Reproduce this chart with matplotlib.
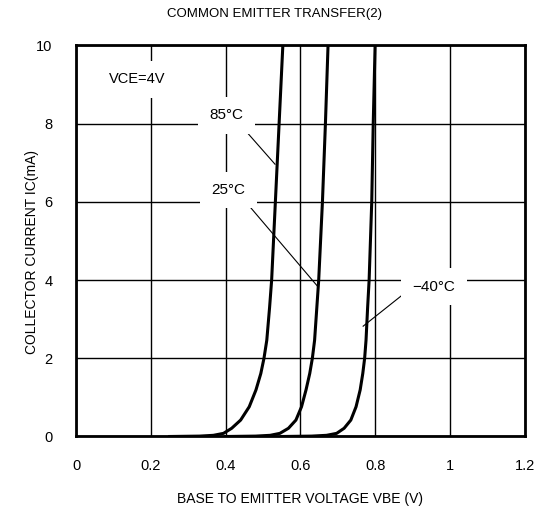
import matplotlib.pyplot as plt
import numpy as np

plt.rcParams['font.family'] = ['Liberation Sans', 'Noto Sans CJK JP', 'DejaVu Sans']

# curves: (VBE [V], IC [mA])
vbe_85 = [0.25, 0.33, 0.367, 0.394, 0.416, 0.440, 0.463, 0.481, 0.494, 0.5025, 0.510, 0.5175, 0.523, 0.533, 0.543, 0.553]
ic_85 = [0.0, 0.01, 0.03, 0.08, 0.21, 0.42, 0.76, 1.19, 1.61, 2.0, 2.46, 3.3, 4.0, 6.0, 8.0, 10.0]

vbe_25 = [0.40, 0.48, 0.519, 0.545, 0.568, 0.588, 0.603, 0.615, 0.625, 0.632, 0.638, 0.644, 0.649, 0.659, 0.667, 0.674]
ic_25 = [0.0, 0.01, 0.03, 0.08, 0.21, 0.42, 0.76, 1.19, 1.61, 2.0, 2.46, 3.3, 4.0, 6.0, 8.0, 10.0]

vbe_m40 = [0.55, 0.63, 0.670, 0.697, 0.717, 0.735, 0.749, 0.760, 0.767, 0.772, 0.7757, 0.780, 0.784, 0.791, 0.795, 0.800]
ic_m40 = [0.0, 0.01, 0.03, 0.08, 0.21, 0.42, 0.76, 1.19, 1.61, 2.0, 2.46, 3.3, 4.0, 6.0, 8.0, 10.0]

labels = ["85\u00b0C", "25\u00b0C", "\u221240\u00b0C"]
label_xy = [(0.401, 8.21), (0.408, 6.30), (0.958, 3.83)]
leaders = [((0.438, 7.98), (0.532, 6.96)),
           ((0.457, 5.96), (0.645, 3.85)),
           ((0.880, 3.67), (0.768, 2.82))]

xticks = [0, 0.2, 0.4, 0.6, 0.8, 1.0, 1.2]
xticklabels = ["0", "0.2", "0.4", "0.6", "0.8", "1", "1.2"]
yticks = [0, 2, 4, 6, 8, 10]

fig = plt.figure(figsize=(5.4, 5.11), dpi=100)
ax = fig.add_axes([0.1413, 0.1458, 0.830, 0.7656])

ax.set_xlim(0, 1.2)
ax.set_ylim(0, 10)
ax.set_xticks(xticks)
ax.set_xticklabels(xticklabels)
ax.set_yticks(yticks)
ax.tick_params(length=0, labelsize=10.5)
ax.tick_params(axis='x', pad=16)
ax.tick_params(axis='y', pad=17)
ax.grid(True, color='black', lw=1.0, zorder=1)
ax.set_axisbelow(True)
for s in ax.spines.values():
    s.set_linewidth(2.0)

for v, i in [(vbe_85, ic_85), (vbe_25, ic_25), (vbe_m40, ic_m40)]:
    ax.plot(v, i, color='black', lw=2.2, zorder=3, solid_joinstyle='round')

for (p0, p1) in leaders:
    ax.plot([p0[0], p1[0]], [p0[1], p1[1]], color='black', lw=0.8, zorder=3)

for txt, (x, y) in zip(labels, label_xy):
    ax.text(x, y, txt, ha='center', va='center', fontsize=11, zorder=4,
            bbox=dict(boxstyle='square,pad=0.75', fc='white', ec='none'))

ax.text(0.162, 9.13, "VCE=4V", ha='center', va='center', fontsize=10.5, zorder=4,
        bbox=dict(boxstyle='square,pad=0.8', fc='white', ec='none'))

fig.text(274.5 / 540, 1 - 14 / 511, "COMMON EMITTER TRANSFER(2)", ha='center', va='center', fontsize=9.5)
fig.text(300 / 540, 1 - 499 / 511, "BASE TO EMITTER VOLTAGE VBE (V)", ha='center', va='center', fontsize=10)
fig.text(32 / 540, 1 - 251.5 / 511, "COLLECTOR CURRENT IC(mA)", ha='center', va='center', rotation=90, fontsize=10)

fig.savefig("out.png", dpi=100)
